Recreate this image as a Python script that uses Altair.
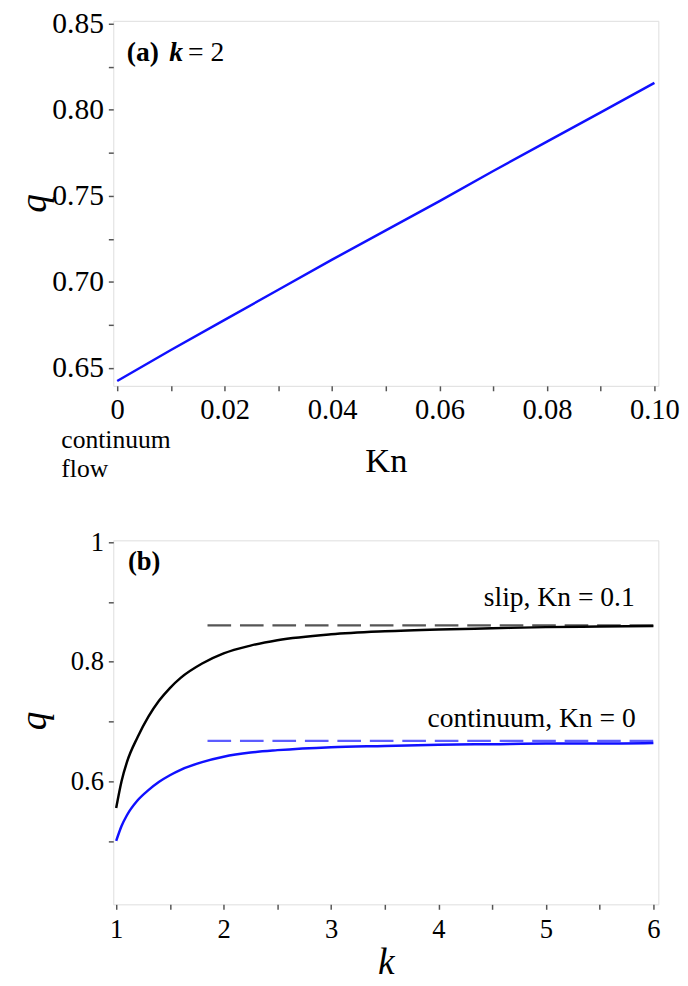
import altair as alt
import pandas as pd

# ---------------- Panel (a): q vs Kn at k = 2 ----------------
kn_values = [0.0, 0.01, 0.02, 0.03, 0.04, 0.05, 0.06, 0.07, 0.08, 0.09, 0.10]
q_vs_kn = [0.6425, 0.6605, 0.678, 0.6955, 0.713, 0.730, 0.747, 0.7645, 0.7815, 0.7985, 0.8157]

# ---------------- Panel (b): q vs k ----------------
k_values = [1.0, 1.05, 1.1, 1.2, 1.3, 1.4, 1.5, 1.6, 1.8, 2.0, 2.25, 2.5, 3.0, 3.5, 4.0, 4.5, 5.0, 5.5, 6.0]
q_slip = [0.555, 0.600, 0.632, 0.674, 0.708, 0.735, 0.756, 0.773, 0.797, 0.814, 0.827, 0.836, 0.846, 0.851, 0.854, 0.856, 0.858, 0.859, 0.860]
q_continuum = [0.500, 0.525, 0.543, 0.568, 0.585, 0.599, 0.610, 0.619, 0.632, 0.641, 0.648, 0.652, 0.657, 0.659, 0.661, 0.662, 0.663, 0.663, 0.664]
asym_k = [1.85, 6.0]
asym_slip = [0.861, 0.861]
asym_continuum = [0.6675, 0.6675]

# tick values
a_xticks = [0.0, 0.01, 0.02, 0.03, 0.04, 0.05, 0.06, 0.07, 0.08, 0.09, 0.10]
a_yticks = [0.65, 0.675, 0.70, 0.725, 0.75, 0.775, 0.80, 0.825, 0.85]
b_xticks = [1.0, 1.5, 2.0, 2.5, 3.0, 3.5, 4.0, 4.5, 5.0, 5.5, 6.0]
b_yticks = [0.5, 0.6, 0.7, 0.8, 0.9, 1.0]

SERIF = "Liberation Serif"
BLUE = "#1010ff"


def axis_style(**kw):
    base = dict(grid=False, domain=False, tickSize=5, tickColor="#555555", tickWidth=1.5,
                labelFont=SERIF, labelColor="black", titleFont=SERIF, titleColor="black",
                titleFontWeight="normal")
    base.update(kw)
    return alt.Axis(**base)


# ---------- panel (a) ----------
xa = alt.X("Kn:Q", scale=alt.Scale(domain=[-0.00073, 0.10073], nice=False, zero=False),
           axis=axis_style(values=a_xticks, labelFontSize=29, labelPadding=5,
                           labelExpr="round(datum.value*100) % 2 == 0 ? (datum.value == 0 ? '0' : format(datum.value, '.2f')) : ''",
                           title="Kn", titleFontSize=35, titleX=277, titleY=87,
                           titleBaseline="alphabetic", titleAlign="center"))
ya = alt.Y("q:Q", scale=alt.Scale(domain=[0.6397, 0.8517], nice=False, zero=False),
           axis=axis_style(values=a_yticks, labelFontSize=30, labelPadding=5,
                           labelExpr="round(datum.value*1000) % 50 == 0 ? format(datum.value, '.2f') : ''",
                           title="q", titleFontSize=38, titleFontStyle="italic",
                           titleX=-80, titleY=185, titleAngle=270, titleAlign="center",
                           titleBaseline="middle"))

df_a = pd.DataFrame({"Kn": kn_values, "q": q_vs_kn})
line_a = alt.Chart(df_a).mark_line(color=BLUE, strokeWidth=2.5).encode(x=xa, y=ya)

ann_a1 = alt.Chart(pd.DataFrame({"Kn": [0.0018], "q": [0.8283], "t": ["(a)"]})).mark_text(
    font=SERIF, fontSize=28, fontWeight="bold", align="left", baseline="alphabetic", color="black"
).encode(x=xa, y=ya, text="t:N")
ann_a2 = alt.Chart(pd.DataFrame({"Kn": [0.0097], "q": [0.8283], "t": ["k"]})).mark_text(
    font=SERIF, fontSize=28, fontWeight="bold", fontStyle="italic", align="left",
    baseline="alphabetic", color="black"
).encode(x=xa, y=ya, text="t:N")
ann_a3 = alt.Chart(pd.DataFrame({"Kn": [0.0132], "q": [0.8283], "t": ["= 2"]})).mark_text(
    font=SERIF, fontSize=28, align="left", baseline="alphabetic", color="black"
).encode(x=xa, y=ya, text="t:N")
ann_a4 = alt.Chart(pd.DataFrame({"Kn": [-0.0104], "q": [0.6037], "t": [["continuum", "flow"]]})).mark_text(
    font=SERIF, fontSize=26, align="left", baseline="alphabetic", lineHeight=30, color="black"
).encode(x=xa, y=ya, text="t")

panel_a = alt.layer(line_a, ann_a1, ann_a2, ann_a3, ann_a4).properties(width=554, height=371)

# ---------- panel (b) ----------
xb = alt.X("k:Q", scale=alt.Scale(domain=[0.973, 6.046], nice=False, zero=False),
           axis=axis_style(values=b_xticks, labelFontSize=27, labelPadding=8,
                           labelExpr="datum.value % 1 == 0 ? format(datum.value, 'd') : ''",
                           title="k", titleFontSize=38, titleFontStyle="italic",
                           titleX=277, titleY=70, titleBaseline="alphabetic", titleAlign="center"))
yb = alt.Y("q:Q", scale=alt.Scale(domain=[0.3938, 1.0033], nice=False, zero=False),
           axis=axis_style(values=b_yticks, labelFontSize=27, labelPadding=5,
                           labelExpr="round(datum.value*10) % 2 == 0 ? (datum.value == 1 ? '1' : format(datum.value, '.1f')) : ''",
                           title="q", titleFontSize=38, titleFontStyle="italic",
                           titleX=-80, titleY=183, titleAngle=270, titleAlign="center",
                           titleBaseline="middle"))

df_slip = pd.DataFrame({"k": k_values, "q": q_slip})
df_cont = pd.DataFrame({"k": k_values, "q": q_continuum})
df_as = pd.DataFrame({"k": asym_k, "q": asym_slip})
df_ac = pd.DataFrame({"k": asym_k, "q": asym_continuum})

dash_slip = alt.Chart(df_as).mark_line(color="#555555", strokeWidth=2.2, strokeDash=[24, 9]).encode(x=xb, y=yb)
dash_cont = alt.Chart(df_ac).mark_line(color="#5c5cff", strokeWidth=2.2, strokeDash=[24, 9]).encode(x=xb, y=yb)
line_slip = alt.Chart(df_slip).mark_line(color="black", strokeWidth=2.5, interpolate="monotone").encode(x=xb, y=yb)
line_cont = alt.Chart(df_cont).mark_line(color=BLUE, strokeWidth=2.5, interpolate="monotone").encode(x=xb, y=yb)

ann_b1 = alt.Chart(pd.DataFrame({"k": [1.11], "q": [0.954], "t": ["(b)"]})).mark_text(
    font=SERIF, fontSize=27, fontWeight="bold", align="left", baseline="alphabetic", color="black"
).encode(x=xb, y=yb, text="t:N")
ann_b2 = alt.Chart(pd.DataFrame({"k": [5.826, 5.835], "q": [0.893, 0.6905],
                                 "t": ["slip, Kn = 0.1", "continuum, Kn = 0"]})).mark_text(
    font=SERIF, fontSize=28, align="right", baseline="alphabetic", color="black"
).encode(x=xb, y=yb, text="t:N")

panel_b = alt.layer(dash_slip, dash_cont, line_slip, line_cont, ann_b1, ann_b2).properties(width=554, height=370)

chart = alt.vconcat(panel_a, panel_b, spacing=157, bounds="flush").properties(
    padding={"left": 7, "top": -8, "right": 0, "bottom": 0}
).configure_view(stroke="#8a8a8a", strokeWidth=2.5).configure(background="white")

chart.save("out.html", embed_options={"renderer": "svg", "actions": False})
